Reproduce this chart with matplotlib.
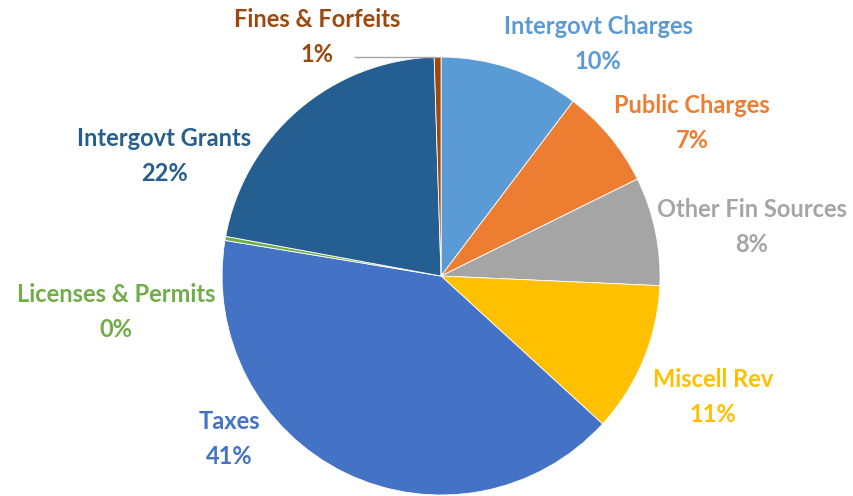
import numpy as np
import matplotlib
matplotlib.use("Agg")
import matplotlib.pyplot as plt

# revenue share by source, clockwise from 12 o'clock
sources = ["Intergovt Charges", "Public Charges", "Other Fin Sources", "Miscell Rev",
           "Taxes", "Licenses & Permits", "Intergovt Grants", "Fines & Forfeits"]
shares = [10.3, 7.4, 8.0, 11.1, 40.8, 0.3, 21.6, 0.5]
pct_labels = ["10%", "7%", "8%", "11%", "41%", "0%", "22%", "1%"]
colors = ["#5B9BD5", "#ED7D31", "#A5A5A5", "#FFC000",
          "#4472C4", "#70AD47", "#255E91", "#9E480E"]

# label positions in pie radius units (layout only)
label_pos = [(0.717, 1.059), (1.146, 0.699), (1.420, 0.224), (1.242, -0.553),
             (-0.968, -0.744), (-1.484, -0.164), (-1.265, 0.548), (-0.566, 1.091)]

plt.rcParams['font.family'] = ['Lato', 'DejaVu Sans']

fig = plt.figure(figsize=(8.54, 4.96), dpi=100)
ax = fig.add_axes([0.2600, 0.0020, 0.5129, 0.883])

wedges, _ = ax.pie(shares, colors=colors, startangle=90, counterclock=False,
                   radius=1, wedgeprops=dict(edgecolor='white', linewidth=0.6))
ax.set_xlim(-1, 1)
ax.set_ylim(-1, 1)
ax.set_aspect('equal')
ax.axis('off')

for name, pct, col, (x, y) in zip(sources, pct_labels, colors, label_pos):
    ax.text(x, y, f"{name}\n{pct}", color=col, fontsize=17, fontweight='bold',
            ha='center', va='center', linespacing=1.6, clip_on=False)

# leader line for the small slice
ax.plot([-0.393, -0.023], [1.0, 1.0], color='#A5A5A5', lw=1, clip_on=False)

fig.savefig("out.png", dpi=100)
